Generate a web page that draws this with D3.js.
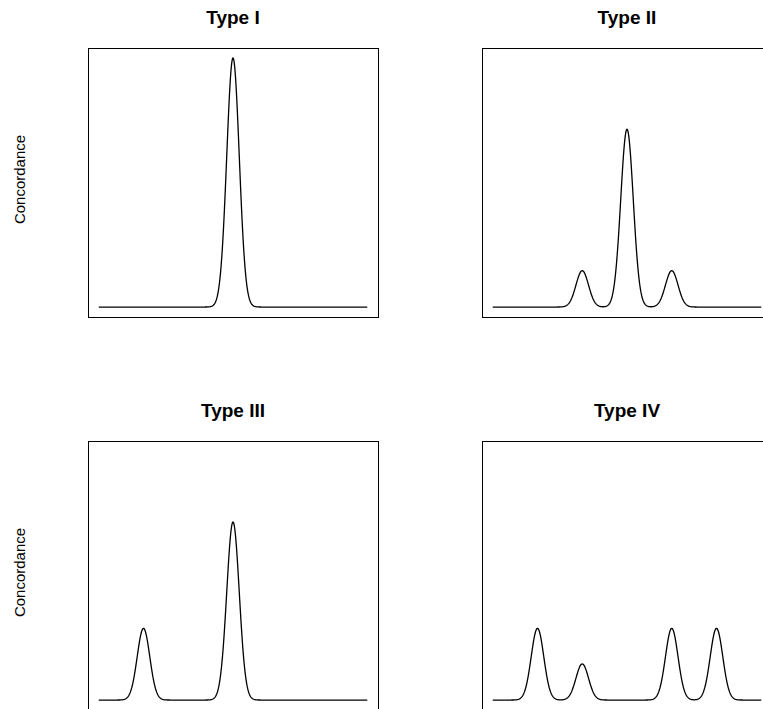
<!DOCTYPE html>
<html>
<head>
<meta charset="utf-8">
<script src="https://cdn.jsdelivr.net/npm/d3@7"></script>
<style>
  body { margin: 0; background: #fff; }
  svg { display: block; }
  text { font-family: "Liberation Sans", Arial, Helvetica, sans-serif; fill: #000; }
</style>
</head>
<body>
<svg id="chart" width="763" height="709"></svg>
<script>
// ---- data ----
const panelTitles = ["Type I", "Type II", "Type III", "Type IV"];
const peakCenters = [[0], [-1, 0, 1], [-2, 0], [-2, -1, 1, 2]];
const peakHeights = [[1], [0.146, 0.714, 0.146], [0.288, 0.715], [0.288, 0.145, 0.288, 0.288]];
const peakSD = 0.14;
const xDomain = [-3, 3];
const yDomain = [0, 1];
const yLabel = "Concordance";

// ---- layout ----
const svg = d3.select("#chart");
const boxW = 290, boxH = 269;
const boxLefts = [88, 482, 88, 482];
const boxTops = [48, 48, 441, 441];

const xs = d3.range(0, 601).map(i => xDomain[0] + (xDomain[1] - xDomain[0]) * i / 600);

panelTitles.forEach((title, p) => {
  const L = boxLefts[p], T = boxTops[p];
  const xpad = (xDomain[1] - xDomain[0]) * 0.04;
  const ypad = (yDomain[1] - yDomain[0]) * 0.04;
  const x = d3.scaleLinear().domain([xDomain[0] - xpad, xDomain[1] + xpad]).range([L, L + boxW]);
  const y = d3.scaleLinear().domain([yDomain[0] - ypad, yDomain[1] + ypad]).range([T + boxH, T]);

  const pts = xs.map(v => {
    let s = 0;
    peakCenters[p].forEach((c, k) => {
      s += peakHeights[p][k] * Math.exp(-((v - c) * (v - c)) / (2 * peakSD * peakSD));
    });
    return [v, s];
  });

  const g = svg.append("g");
  g.append("path")
    .datum(pts)
    .attr("fill", "none")
    .attr("stroke", "#000")
    .attr("stroke-width", 1.3)
    .attr("stroke-linejoin", "round")
    .attr("d", d3.line().x(d => x(d[0])).y(d => y(d[1])));

  g.append("rect")
    .attr("x", L + 0.5).attr("y", T + 0.5)
    .attr("width", boxW).attr("height", boxH)
    .attr("fill", "none").attr("stroke", "#000").attr("stroke-width", 1);

  g.append("text")
    .attr("x", L + boxW / 2).attr("y", T - 24)
    .attr("text-anchor", "middle")
    .attr("font-size", 19).attr("font-weight", "bold")
    .text(title);

  if (p % 2 === 0) {
    g.append("text")
      .attr("transform", `translate(25,${T + boxH / 2 - 3}) rotate(-90)`)
      .attr("text-anchor", "middle")
      .attr("font-size", 15)
      .text(yLabel);
  }
});
</script>
</body>
</html>
